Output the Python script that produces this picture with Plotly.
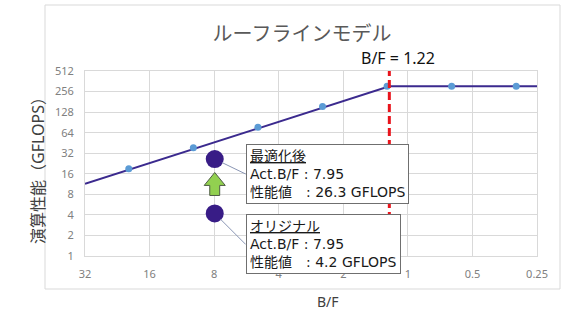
import math
import plotly.graph_objects as go

# ---- data ----
bf_ticks = [32, 16, 8, 4, 2, 1, 0.5, 0.25]
bf_ticktext = ["32", "16", "8", "4", "2", "1", "0.5", "0.25"]
perf_ticks = [1, 2, 4, 8, 16, 32, 64, 128, 256, 512]

roof_bf = [32, 1.22, 0.25]
roof_perf = [11.4, 305, 305]

meas_bf = [20, 10, 5, 2.5, 1.25, 0.625, 0.3125]
meas_perf = [19, 38.5, 77, 155, 305, 305, 305]

knee_bf = 1.22
app_bf = [7.95, 7.95]
app_perf = [26.3, 4.2]
app_names = ["最適化後", "オリジナル"]

# arrow (decoration) in data units
arr_x = 7.95
arr_tip, arr_neck, arr_base = 16.7, 10.8, 7.7
arr_head_f, arr_shaft_f = 2 ** 0.163, 2 ** 0.077

# ---- layout geometry ----
W, H = 562, 325
L, R, T, B = 85, 25, 71, 69
pw, ph = W - L - R, H - T - B
def px(xp): return (xp - L) / pw
def py(yp): return (H - B - yp) / ph

FONT = "Noto Sans, Noto Sans CJK JP, sans-serif"
BOXFONT = "DejaVu Sans, Noto Sans CJK JP, sans-serif"
fig = go.Figure()

fig.add_trace(go.Scatter(x=roof_bf, y=roof_perf, mode="lines",
                         line=dict(color="#3B2A8E", width=2), hoverinfo="skip"))
fig.add_trace(go.Scatter(x=meas_bf, y=meas_perf, mode="markers",
                         marker=dict(color="#5B9BD5", size=7), hoverinfo="skip"))
fig.add_trace(go.Scatter(x=[knee_bf, knee_bf], y=[1, 512], mode="lines",
                         line=dict(color="#E8141C", width=3, dash="8px,4px"),
                         hoverinfo="skip"))
# green arrow polygon
ax_ = [arr_x, arr_x * arr_head_f, arr_x * arr_shaft_f, arr_x * arr_shaft_f,
       arr_x / arr_shaft_f, arr_x / arr_shaft_f, arr_x / arr_head_f, arr_x]
ay_ = [arr_tip, arr_neck, arr_neck, arr_base, arr_base, arr_neck, arr_neck, arr_tip]
fig.add_trace(go.Scatter(x=ax_, y=ay_, mode="lines", fill="toself",
                         fillcolor="#92D050", line=dict(color="#4E5B45", width=1),
                         hoverinfo="skip"))
fig.add_trace(go.Scatter(x=app_bf, y=app_perf, mode="markers",
                         marker=dict(color="#381C86", size=18), hoverinfo="skip"))

annos = []
offsets = [(31, 15), (31, 31)]
for name, xb, yp, (dx, dy) in zip(app_names, app_bf, app_perf, offsets):
    txt = (f"<u>{name}</u><br>Act.B/F : {xb:.2f}<br>"
           f"性能値　: {yp:g} GFLOPS")
    annos.append(dict(x=math.log10(xb), y=math.log10(yp), xref="x", yref="y",
                      text=txt, align="left", showarrow=True, ax=dx, ay=dy,
                      xanchor="left", yanchor="middle", arrowhead=0,
                      arrowwidth=1, arrowcolor="#8A96B4", standoff=8,
                      bgcolor="white", bordercolor="#6F6F6F", borderwidth=1,
                      borderpad=3, font=dict(family=BOXFONT, size=14, color="#1A1A1A")))

annos.append(dict(x=math.log10(knee_bf), y=py(58), xref="x", yref="paper",
                  text=f"B/F = {knee_bf}", showarrow=False, yanchor="middle",
                  xanchor="center", xshift=9,
                  font=dict(family=FONT, size=16, color="#111111")))
annos.append(dict(x=px(328), y=py(313), xref="paper", yref="paper", text="B/F",
                  showarrow=False, font=dict(family=FONT, size=14, color="#404040")))
annos.append(dict(x=px(25), y=py(167), xref="paper", yref="paper",
                  text="演算性能（GFLOPS）", textangle=-90, showarrow=False,
                  font=dict(family=FONT, size=16, color="#404040")))

fig.update_layout(
    width=W, height=H, margin=dict(l=L, r=R, t=T, b=B),
    paper_bgcolor="white", plot_bgcolor="white", showlegend=False,
    title=dict(text="ルーフラインモデル", x=302 / W, y=1 - 34 / H,
               xanchor="center", yanchor="middle",
               font=dict(family=FONT, size=20, color="#595959")),
    annotations=annos,
    shapes=[dict(type="rect", xref="paper", yref="paper",
                 x0=px(45), x1=px(560), y0=py(289), y1=py(5),
                 line=dict(color="#D9D9D9", width=1), layer="below")],
)
fig.update_xaxes(type="log", range=[math.log10(32), math.log10(0.25)],
                 tickvals=bf_ticks, ticktext=bf_ticktext, showgrid=True,
                 gridcolor="#D9D9D9", showline=True, linecolor="#D9D9D9", mirror=True,
                 zeroline=False, ticks="", ticklabelstandoff=8,
                 tickfont=dict(family=FONT, size=11, color="#808080"))
fig.update_yaxes(type="log", range=[0, math.log10(512)],
                 tickvals=perf_ticks, ticktext=[str(v) for v in perf_ticks],
                 showgrid=True, gridcolor="#D9D9D9", showline=True,
                 linecolor="#D9D9D9", mirror=True, zeroline=False, ticks="",
                 ticklabelstandoff=8,
                 tickfont=dict(family=FONT, size=11, color="#808080"))

fig.write_html("out.html")
